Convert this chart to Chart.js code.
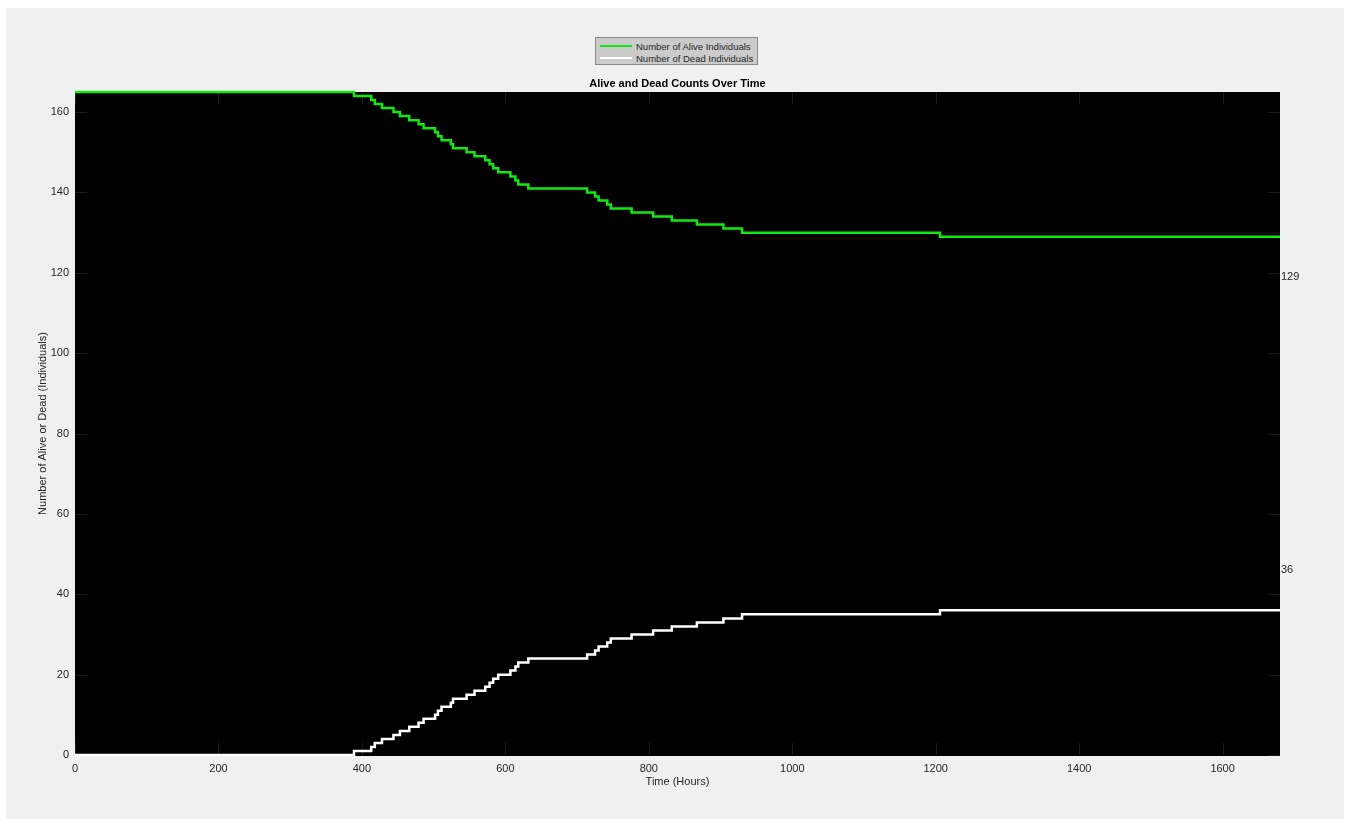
<!DOCTYPE html>
<html>
<head>
<meta charset="utf-8">
<title>Alive and Dead Counts Over Time</title>
<script src="https://cdn.jsdelivr.net/npm/chart.js@4/dist/chart.umd.min.js"></script>
<style>
  html, body { margin: 0; padding: 0; background: #ffffff; }
  body { width: 1350px; height: 825px; position: relative; overflow: hidden;
         font-family: "Liberation Sans", Arial, Helvetica, sans-serif; }
  #fig { position: absolute; left: 6px; top: 8px; width: 1338px; height: 811px; background: #f0f0f0; }
  #plot { position: absolute; left: 0; top: 0; }
  #legend { position: absolute; left: 595px; top: 37px; width: 163px; height: 28px;
            background: #cbcbcb; border: 1px solid #8a8a8a; box-sizing: border-box; }
  #legend .row { position: absolute; left: 0; height: 12px; display: flex; align-items: center;
                 font-size: 9.5px; color: #262626; white-space: nowrap; }
  #legend .sw { display: inline-block; width: 32px; height: 2px; margin-left: 4px; margin-right: 4px; }
</style>
</head>
<body>
<div id="fig"></div>
<canvas id="plot" width="1350" height="825"></canvas>
<div id="legend"></div>
<script>
// Hours at which the counts change, and the counts from that hour on
const changeHours = [0, 389, 413, 418, 428, 444, 453, 466, 479, 486, 502, 506, 511, 524, 527,
                     546, 557, 572, 578, 583, 590, 607, 614, 618, 632, 714, 725, 730, 742, 747,
                     776, 806, 832, 867, 904, 930, 1206, 1680];
const aliveCounts = [165, 164, 163, 162, 161, 160, 159, 158, 157, 156, 155, 154, 153, 152, 151,
                     150, 149, 148, 147, 146, 145, 144, 143, 142, 141, 140, 139, 138, 137, 136,
                     135, 134, 133, 132, 131, 130, 129, 129];
const deadCounts  = [0, 1, 2, 3, 4, 5, 6, 7, 8, 9, 10, 11, 12, 13, 14,
                     15, 16, 17, 18, 19, 20, 21, 22, 23, 24, 25, 26, 27, 28, 29,
                     30, 31, 32, 33, 34, 35, 36, 36];

const seriesNames  = ['Number of Alive Individuals', 'Number of Dead Individuals'];
const seriesColors = ['#12e812', '#ffffff'];

const xTickValues = [0, 200, 400, 600, 800, 1000, 1200, 1400, 1600];
const yTickValues = [0, 20, 40, 60, 80, 100, 120, 140, 160];
const xMax = 1680;
const yMax = 165;

const chartTitle = 'Alive and Dead Counts Over Time';
const xTitle = 'Time (Hours)';
const yTitle = 'Number of Alive or Dead (Individuals)';

const TEXT = '#262626';
const FONT = '"Liberation Sans", Arial, Helvetica, sans-serif';

function toPoints(ys) {
  return changeHours.map((h, i) => ({ x: h, y: ys[i] }));
}

// Legend box above the title
const legend = document.getElementById('legend');
seriesNames.forEach((name, i) => {
  const row = document.createElement('div');
  row.className = 'row';
  row.style.top = (2 + i * 12) + 'px';
  const sw = document.createElement('span');
  sw.className = 'sw';
  sw.style.background = seriesColors[i];
  const tx = document.createElement('span');
  tx.textContent = name;
  row.appendChild(sw);
  row.appendChild(tx);
  legend.appendChild(row);
});

// Black axes background, inward tick marks, title and end-value labels
const axesDecor = {
  id: 'axesDecor',
  beforeDraw(chart) {
    const { ctx, chartArea: a } = chart;
    ctx.save();
    ctx.fillStyle = '#000000';
    ctx.fillRect(a.left, a.top, a.right - a.left, a.bottom - a.top + 1);
    ctx.restore();
  },
  beforeDatasetsDraw(chart) {
    const { ctx, chartArea: a, scales } = chart;
    const len = 12;
    ctx.save();
    ctx.strokeStyle = '#1a1a1a';
    ctx.lineWidth = 1;
    ctx.beginPath();
    xTickValues.forEach(v => {
      const x = Math.round(scales.x.getPixelForValue(v)) + 0.5;
      ctx.moveTo(x, a.bottom); ctx.lineTo(x, a.bottom - len);
      ctx.moveTo(x, a.top); ctx.lineTo(x, a.top + len);
    });
    yTickValues.forEach(v => {
      const y = Math.round(scales.y.getPixelForValue(v)) + 0.5;
      ctx.moveTo(a.left, y); ctx.lineTo(a.left + len, y);
      ctx.moveTo(a.right, y); ctx.lineTo(a.right - len, y);
    });
    ctx.stroke();
    ctx.restore();
  },
  afterDraw(chart) {
    const { ctx, chartArea: a, scales } = chart;
    ctx.save();
    ctx.fillStyle = '#000000';
    ctx.font = 'bold 11px ' + FONT;
    ctx.textAlign = 'center';
    ctx.textBaseline = 'middle';
    ctx.fillText(chartTitle, (a.left + a.right) / 2, 84);

    // final values written just past the right edge of the axes
    ctx.font = '11px ' + FONT;
    ctx.fillStyle = TEXT;
    ctx.textAlign = 'left';
    const last = changeHours.length - 1;
    const xEnd = scales.x.getPixelForValue(changeHours[last]) + 1;
    const aliveEnd = aliveCounts[last];
    const deadEnd = deadCounts[last];
    ctx.fillText(String(aliveEnd), xEnd, scales.y.getPixelForValue(aliveEnd - 10));
    ctx.fillText(String(deadEnd), xEnd, scales.y.getPixelForValue(deadEnd + 10));
    ctx.restore();
  }
};

const lineStyle = (i) => ({
  label: seriesNames[i],
  borderColor: seriesColors[i],
  backgroundColor: seriesColors[i],
  borderWidth: 2.5,
  stepped: true,
  pointRadius: 0,
  fill: false,
  clip: false
});

new Chart(document.getElementById('plot'), {
  type: 'line',
  data: {
    datasets: [
      Object.assign(lineStyle(0), { data: toPoints(aliveCounts) }),
      Object.assign(lineStyle(1), { data: toPoints(deadCounts) })
    ]
  },
  options: {
    responsive: false,
    animation: false,
    events: [],
    layout: { padding: { left: 30, right: 70, top: 92, bottom: 25 } },
    plugins: { legend: { display: false }, tooltip: { enabled: false }, title: { display: false } },
    scales: {
      x: {
        type: 'linear',
        min: 0,
        max: xMax,
        afterFit(s) { s.height = 45; },
        afterBuildTicks(s) { s.ticks = xTickValues.map(v => ({ value: v })); },
        grid: { display: false, drawTicks: false },
        border: { display: false },
        ticks: { padding: 7, color: TEXT, font: { family: FONT, size: 11 }, maxRotation: 0,
                 callback: v => String(v) },
        title: { display: true, text: xTitle, color: TEXT, font: { family: FONT, size: 11 },
                 padding: { top: 0, bottom: 11 } }
      },
      y: {
        type: 'linear',
        min: 0,
        max: yMax,
        afterFit(s) { s.width = 45; },
        afterBuildTicks(s) { s.ticks = yTickValues.map(v => ({ value: v })); },
        grid: { display: false, drawTicks: false },
        border: { display: false },
        ticks: { padding: 6, color: TEXT, font: { family: FONT, size: 11 },
                 callback: v => String(v) },
        title: { display: true, text: yTitle, color: TEXT, font: { family: FONT, size: 11 },
                 padding: { top: 6, bottom: 0 } }
      }
    }
  },
  plugins: [axesDecor]
});
</script>
</body>
</html>
